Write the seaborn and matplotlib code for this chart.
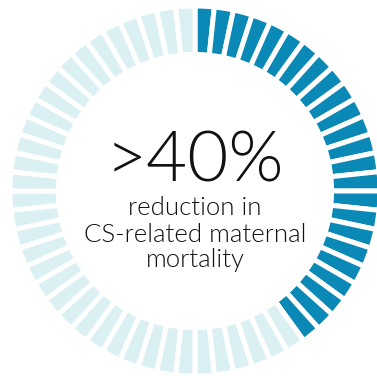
import matplotlib
matplotlib.use("Agg")
import matplotlib.pyplot as plt
import seaborn as sns

# ring data: 60 segments, share highlighted
n_segments = 60
reduction_pct = 40
headline = ">40%"
caption_lines = ["reduction in", "CS-related maternal", "mortality"]

dark_blue = "#0a89b6"
light_blue = "#dbf0f2"

sns.set_theme(style="white")
plt.rcParams['font.family'] = ['Lato', 'DejaVu Sans']

n_filled = round(n_segments * reduction_pct / 100)
sizes = [1] * n_segments
colors = [dark_blue if i < n_filled else light_blue for i in range(n_segments)]

fig = plt.figure(figsize=(3.77, 3.76), dpi=100)
ax = fig.add_axes([0, 0, 1, 1])

ax.pie(sizes, colors=colors, startangle=90, counterclock=False,
       radius=1.0,
       wedgeprops=dict(width=0.262, edgecolor="white", linewidth=3.6))

scale = 185.0
cx, cy = 195, 191
ax.set_xlim(-cx / scale, (377 - cx) / scale)
ax.set_ylim(-(376 - cy) / scale, cy / scale)
ax.set_aspect("auto")
ax.axis("off")

ax.text(0, (cy - 182) / scale, headline, ha="center", va="baseline",
        fontsize=51, fontweight=300, color="#111111")
for line, base in zip(caption_lines, [215, 242, 267]):
    ax.text(0, (cy - base) / scale, line, ha="center", va="baseline",
            fontsize=18.5, fontweight=300, color="#111111")

fig.savefig("out.png", dpi=100)
